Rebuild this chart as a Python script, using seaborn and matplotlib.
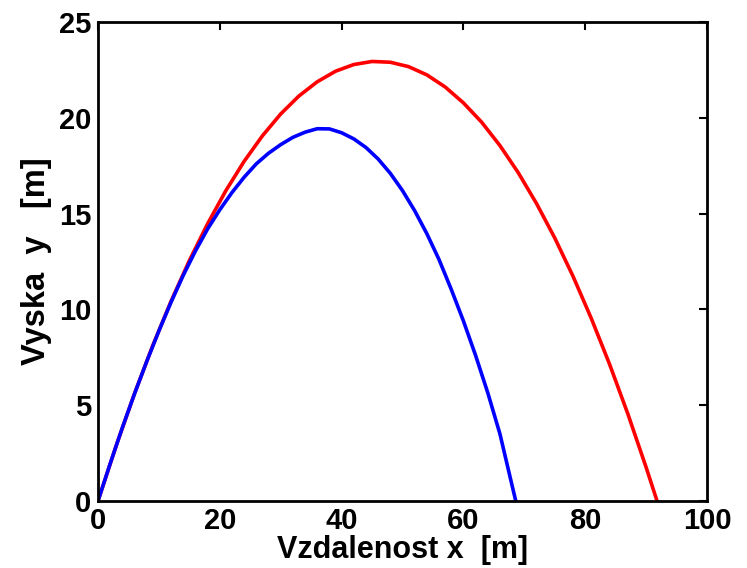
import pandas as pd
import matplotlib
matplotlib.use("Agg")
import matplotlib.pyplot as plt
import seaborn as sns

# Trajectory without drag (red)
x_red = [0, 3, 6, 9, 12, 15, 18, 21, 24, 27, 30, 33, 36, 39, 42, 45, 48, 51, 54, 57, 60,
         63, 66, 69, 72, 75, 78, 81, 84, 87, 90, 91.8]
y_red = [0, 2.90, 5.61, 8.12, 10.43, 12.55, 14.47, 16.20, 17.73, 19.06, 20.20, 21.14, 21.88,
         22.43, 22.78, 22.94, 22.90, 22.67, 22.24, 21.61, 20.78, 19.77, 18.55, 17.14, 15.53,
         13.73, 11.73, 9.53, 7.14, 4.55, 1.76, 0]

# Trajectory with drag (blue)
x_blue = [0, 2, 4, 6, 8, 10, 12, 14, 16, 18, 20, 22, 24, 26, 28, 30, 32, 34, 36, 38, 40,
          42, 44, 46, 48, 50, 52, 54, 56, 58, 60, 62, 64, 66, 68, 68.6]
y_blue = [0, 1.95, 3.83, 5.60, 7.28, 8.88, 10.38, 11.78, 13.05, 14.2, 15.2, 16.1, 16.9,
          17.6, 18.15, 18.6, 18.98, 19.25, 19.43, 19.42, 19.22, 18.9, 18.45, 17.85, 17.1,
          16.2, 15.15, 13.95, 12.6, 11.05, 9.4, 7.6, 5.65, 3.5, 0.8, 0]

df_red = pd.DataFrame({"x": x_red, "y": y_red})
df_blue = pd.DataFrame({"x": x_blue, "y": y_blue})

sns.set_style("white")
plt.rcParams["font.family"] = ["Liberation Sans", "DejaVu Sans"]
plt.rcParams["font.weight"] = "bold"

fig = plt.figure(figsize=(7.47, 5.68), dpi=100)
ax = fig.add_axes([98 / 747, 67 / 568, 609 / 747, 479 / 568])

sns.lineplot(data=df_red, x="x", y="y", color="#ff0000", linewidth=2.6, sort=False, ax=ax)
sns.lineplot(data=df_blue, x="x", y="y", color="#0000ff", linewidth=2.6, sort=False, ax=ax)

ax.set_xlim(0, 100)
ax.set_ylim(0, 25)
ax.set_xticks([0, 20, 40, 60, 80, 100])
ax.set_yticks([0, 5, 10, 15, 20, 25])

for s in ax.spines.values():
    s.set_color("black")
    s.set_linewidth(2.0)

ax.tick_params(direction="in", length=6, width=1.5, top=True, right=True,
               labelsize=21, colors="black")
ax.tick_params(axis="x", pad=4)
ax.tick_params(axis="y", pad=5)
for lab in ax.get_xticklabels() + ax.get_yticklabels():
    lab.set_fontweight("bold")

ax.set_xlabel("Vzdalenost x  [m]", fontsize=22, fontweight="bold", color="black", labelpad=0.5)
ax.set_ylabel("Vyska  y   [m]", fontsize=23.5, fontweight="bold", color="black", labelpad=5)

fig.savefig("out.png", dpi=100)
